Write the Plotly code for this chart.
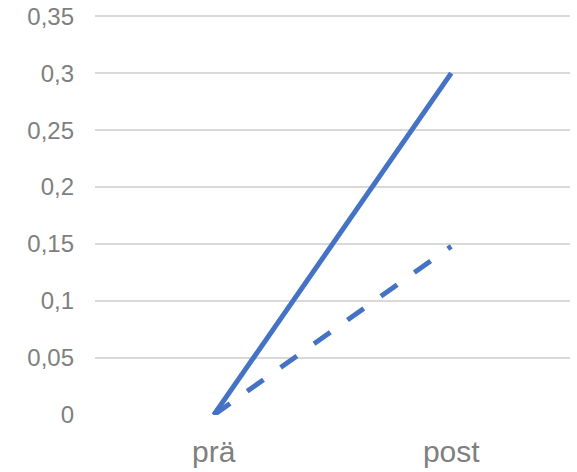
import plotly.graph_objects as go

categories = ["prä", "post"]
series_solid = [0.0, 0.30]
series_dashed = [0.0, 0.148]
y_ticks = [0, 0.05, 0.1, 0.15, 0.2, 0.25, 0.3, 0.35]
y_tick_labels = ["0", "0,05", "0,1", "0,15", "0,2", "0,25", "0,3", "0,35"]

line_color = "#4472C4"
text_color = "#7f7f7f"
grid_color = "#d9d9d9"

fig = go.Figure()
fig.add_trace(go.Scatter(x=categories, y=series_solid, mode="lines",
                         line=dict(color=line_color, width=5), showlegend=False))
fig.add_trace(go.Scatter(x=categories, y=series_dashed, mode="lines",
                         line=dict(color=line_color, width=5, dash="20px,21px"),
                         showlegend=False))

fig.update_layout(
    width=577, height=472,
    margin=dict(l=95, r=7, t=15, b=57),
    paper_bgcolor="white", plot_bgcolor="white",
    font=dict(family="Liberation Sans, Arial, sans-serif", color=text_color),
    showlegend=False,
)
fig.update_xaxes(type="category", range=[-0.5, 1.5], showgrid=False, zeroline=False,
                 showline=False, ticks="", tickfont=dict(size=30, color=text_color),
                 ticklabelstandoff=16, automargin=False, ticklabeloverflow="allow")
fig.update_yaxes(range=[0, 0.351], tickvals=y_ticks, ticktext=y_tick_labels,
                 showgrid=True, gridcolor=grid_color, gridwidth=1.5,
                 zeroline=False, showline=False, ticks="",
                 tickfont=dict(size=24, color=text_color), ticklabelstandoff=20,
                 automargin=False, ticklabeloverflow="allow")

fig.write_html("out.html",
               config={"displayModeBar": False},
               post_script="document.body.style.margin='0';document.body.style.overflow='hidden';")
